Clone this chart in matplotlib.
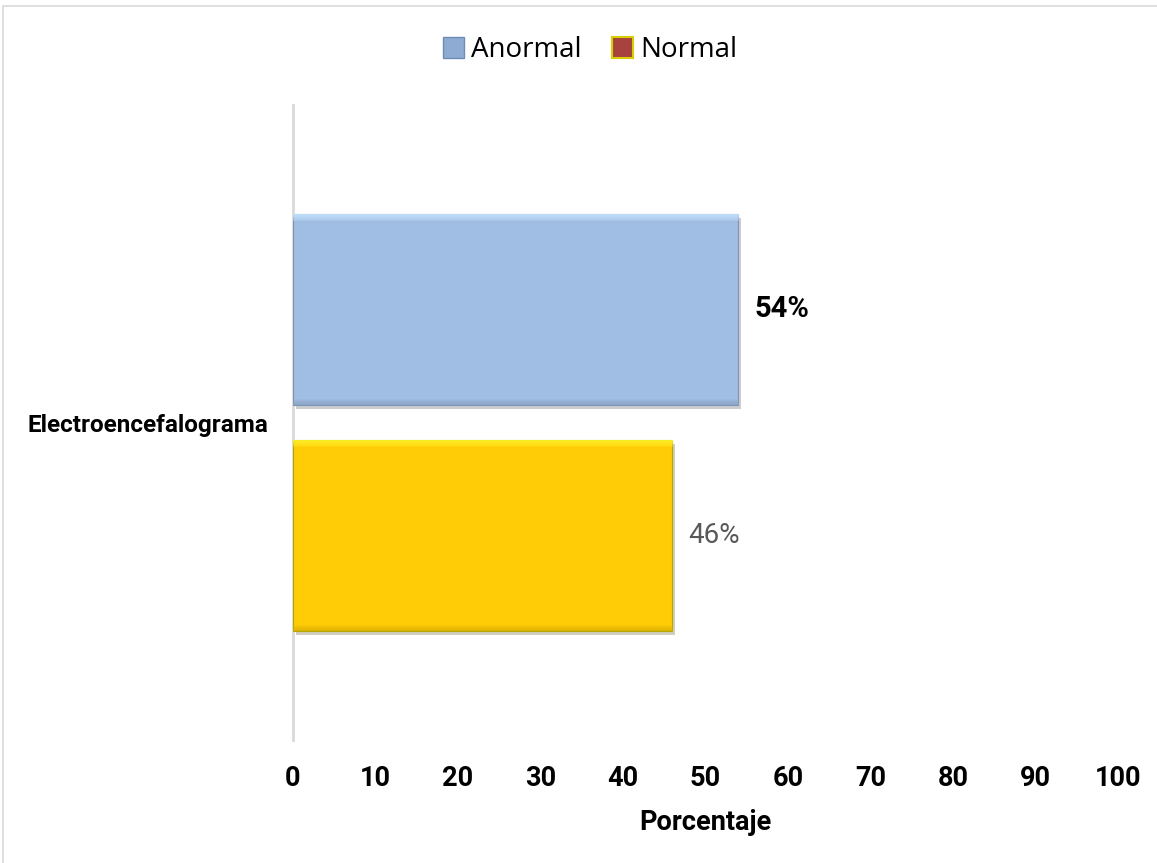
import numpy as np
import matplotlib.pyplot as plt
from matplotlib.patches import Rectangle, Patch
from matplotlib import patheffects as pe
from matplotlib.colors import to_rgb

# Datos
categoria = "Electroencefalograma"
series = ["Anormal", "Normal"]
valores = [54, 46]
etiquetas = ["54%", "46%"]
ticks_x = [0, 10, 20, 30, 40, 50, 60, 70, 80, 90, 100]

colores = ["#A0BDE3", "#FFCC05"]
bordes = ["#7D95B5", "#B0A800"]
posiciones = [0.178, -0.178]
alto = 0.30

fuente = ["Roboto", "DejaVu Sans"]

fig = plt.figure(figsize=(11.57, 8.63), dpi=100)
ax = fig.add_axes([0.2532, 0.1425, 0.7131, 0.7358])

barras = []
for v, c, b, y in zip(valores, colores, bordes, posiciones):
    r = ax.barh(y, v, height=alto, color=c, edgecolor=b, linewidth=0.8,
                path_effects=[pe.SimplePatchShadow(offset=(2, -3), alpha=0.25),
                              pe.Normal()], zorder=3)
    barras.append(r[0])

# bisel suave: franja clara arriba y oscura abajo
for p, c in zip(barras, colores):
    x0, y0 = p.get_x(), p.get_y()
    w, h = p.get_width(), p.get_height()
    base = np.array(to_rgb(c))
    n = 300
    t = np.linspace(0, 1, n)
    img = np.zeros((n, 2, 4))
    img[:, :, :3] = base
    top = t > 0.965
    img[top, :, :3] = np.clip(base + 0.15, 0, 1)
    img[top, :, 3] = np.linspace(0.3, 0.9, top.sum())[:, None]
    bot = t < 0.03
    img[bot, :, :3] = base * 0.85
    img[bot, :, 3] = np.linspace(0.8, 0.2, bot.sum())[:, None]
    im = ax.imshow(img, extent=[x0, x0 + w, y0, y0 + h], origin="lower",
                   aspect="auto", zorder=4, interpolation="bilinear")
    im.set_clip_path(p)

ax.set_xlim(0, 100)
ax.set_ylim(-0.5, 0.5)
ax.set_xticks(ticks_x)
ax.set_xticklabels([str(t) for t in ticks_x], fontsize=19.5, fontweight="bold",
                   family=fuente)
ax.tick_params(axis="x", length=0, pad=18)
ax.set_yticks([0])
ax.set_yticklabels([categoria], fontsize=17.5, fontweight="bold", family=fuente)
ax.tick_params(axis="y", length=0, pad=18)

for s in ["top", "right", "bottom"]:
    ax.spines[s].set_visible(False)
ax.spines["left"].set_color("#D9D9D9")
ax.spines["left"].set_linewidth(2)

ax.set_xlabel("Porcentaje", fontsize=19.5, fontweight="bold", family=fuente,
              labelpad=12)

# etiquetas de valor
ax.text(valores[0] + 2.0, posiciones[0], etiquetas[0], va="center", ha="left",
        fontsize=21, fontweight="bold", color="black", family=fuente)
ax.text(valores[1] + 1.9, posiciones[1], etiquetas[1], va="center", ha="left",
        fontsize=20, color="#595959", family=fuente)

# leyenda
handles = [Patch(facecolor="#8EABD3", edgecolor="#6F8CB3", label=series[0]),
           Patch(facecolor="#A8423F", edgecolor="#D6D000", linewidth=1.5, label=series[1])]
fig.legend(handles=handles, loc="center", bbox_to_anchor=(0.51, 0.942), ncol=2,
           frameon=False, handlelength=0.75, handleheight=0.75,
           handletextpad=0.25, columnspacing=1.1,
           prop={"family": ["Open Sans", "DejaVu Sans"], "size": 20})

# marco del gráfico
fig.add_artist(Rectangle((3 / 1157, -0.02), 1.1, 1 - 6 / 863 + 0.02,
                         transform=fig.transFigure, fill=False,
                         edgecolor="#D9D9D9", linewidth=1.2))

fig.savefig("out.png", dpi=100)
